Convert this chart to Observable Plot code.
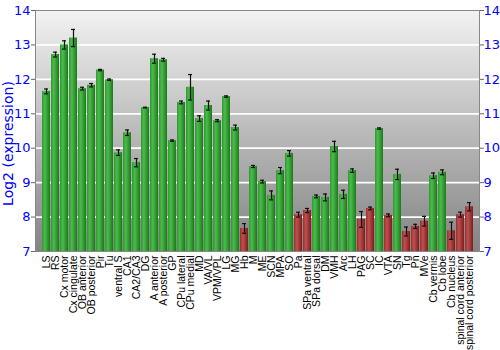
<!DOCTYPE html>
<html><head><meta charset="utf-8">
<script src="https://cdn.jsdelivr.net/npm/d3@7"></script>
<script src="https://cdn.jsdelivr.net/npm/@observablehq/plot@0.6"></script>
<style>body{margin:0;background:#fff}</style>
</head><body><div id="chart"></div>
<script>
const regions = ["LS","RS","Cx motor","Cx cingulate","OB anterior","OB posterior","Pir","Tu","ventral S","CA1","CA2/CA3","DG","A anterior","A posterior","GP","CPu lateral","CPu medial","MD","VA/VL","VPM/VPL","LG","MG","Hb","M","ME","SCN","MPA","SO","Pa","SPa ventral","SPa dorsal","DM","VMH","Arc","LH","PAG","SC","IC","VTA","SN","Tg","Pn","MVe","Cb vermis","Cb lobe","Cb nucleus","spinal cord anterior","spinal cord posterior"];
const expression = [11.65,12.72,13.0,13.2,11.73,11.83,12.27,11.99,9.87,10.45,9.58,11.18,12.6,12.57,10.22,11.33,11.77,10.86,11.24,10.8,11.5,10.6,7.67,9.47,9.03,8.63,9.35,9.85,8.07,8.19,8.6,8.57,10.05,8.66,9.35,7.93,8.25,10.57,8.05,9.24,7.58,7.73,7.88,9.2,9.3,7.6,8.07,8.3];
const stdError = [0.07,0.07,0.12,0.25,0.04,0.05,0.02,0.02,0.08,0.08,0.12,0.01,0.13,0.04,0.02,0.04,0.37,0.08,0.13,0.03,0.02,0.07,0.14,0.03,0.04,0.13,0.09,0.08,0.07,0.06,0.04,0.1,0.15,0.12,0.05,0.23,0.04,0.02,0.04,0.15,0.13,0.06,0.14,0.08,0.07,0.25,0.07,0.12];
const lowFlag = [0,0,0,0,0,0,0,0,0,0,0,0,0,0,0,0,0,0,0,0,0,0,1,0,0,0,0,0,1,1,0,0,0,0,0,1,1,0,1,0,1,1,1,0,0,1,1,1];
const yTicks = [7,8,9,10,11,12,13,14];
const yLabel = "Log2 (expression)";

const data = regions.map((r,i)=>({region:r, value:expression[i], err:stdError[i], low:lowFlag[i]===1}));

const blue = "#0000ff";
const chart = Plot.plot({
  width: 500, height: 350,
  marginLeft: 35, marginRight: 21, marginTop: 10, marginBottom: 99,
  style: {fontFamily: "DejaVu Sans", fontSize: "13px", background: "#fff"},
  x: {type: "band", domain: regions, paddingInner: 0.14, paddingOuter: 0.05},
  y: {domain: [7, 14]},
  marks: [
    Plot.frame({fill: "url(#bgGrad)", stroke: null}),
    Plot.gridY(yTicks.slice(1, -1), {stroke: "#fff", strokeOpacity: 1, strokeWidth: 1.8}),
    Plot.barY(data.filter(d=>!d.low), {x: "region", y1: 7, y2: "value", fill: "url(#greenGrad)"}),
    Plot.barY(data.filter(d=>d.low), {x: "region", y1: 7, y2: "value", fill: "url(#redGrad)"}),
    Plot.ruleX(data, {x: "region", y1: d=>d.value-d.err, y2: d=>d.value+d.err, stroke: "#111", strokeWidth: 1.2}),
    Plot.tickY(data, {x: "region", y: d=>d.value-d.err, stroke: "#111", strokeWidth: 1.2, insetLeft: 2, insetRight: 2}),
    Plot.tickY(data, {x: "region", y: d=>d.value+d.err, stroke: "#111", strokeWidth: 1.2, insetLeft: 2, insetRight: 2}),
    Plot.frame({stroke: "#888", strokeWidth: 1}),
    Plot.axisY(yTicks, {anchor: "left", tickSize: 4, stroke: "#666", tickFormat: () => "", label: null}),
    Plot.axisY(yTicks, {anchor: "left", tickSize: 0, tickPadding: 5, color: blue, fontSize: 13, label: null}),
    Plot.axisY(yTicks, {anchor: "right", tickSize: 4, stroke: "#666", tickFormat: () => "", label: null}),
    Plot.axisY(yTicks, {anchor: "right", tickSize: 0, tickPadding: 4, color: blue, fontSize: 13, label: null}),
    Plot.text([yLabel], {frameAnchor: "left", text: d => d, rotate: -90, dx: -27, dy: 12.5, fill: blue, fontSize: 14, textAnchor: "middle"}),
    Plot.axisX({tickRotate: -90, tickSize: 0, tickPadding: 4, fontSize: 10.5, color: "#000", label: null, fontFamily: "Liberation Sans"})
  ]
});

const svg = d3.select(chart);
const defs = svg.insert("defs", ":first-child");
const bg = defs.append("linearGradient").attr("id","bgGrad").attr("x1",0).attr("y1",0).attr("x2",0).attr("y2",1);
bg.append("stop").attr("offset","0%").attr("stop-color","#f2f2f2");
bg.append("stop").attr("offset","100%").attr("stop-color","#838383");
const g = defs.append("linearGradient").attr("id","greenGrad").attr("x1",0).attr("y1",0).attr("x2",1).attr("y2",0);
g.append("stop").attr("offset","0%").attr("stop-color","#2f9a2f");
g.append("stop").attr("offset","35%").attr("stop-color","#4cbb4c");
g.append("stop").attr("offset","100%").attr("stop-color","#1b7a1b");
const r = defs.append("linearGradient").attr("id","redGrad").attr("x1",0).attr("y1",0).attr("x2",1).attr("y2",0);
r.append("stop").attr("offset","0%").attr("stop-color","#9a2f2f");
r.append("stop").attr("offset","35%").attr("stop-color","#c05050");
r.append("stop").attr("offset","100%").attr("stop-color","#7d1d1d");
document.getElementById("chart").appendChild(chart);
</script></body></html>
